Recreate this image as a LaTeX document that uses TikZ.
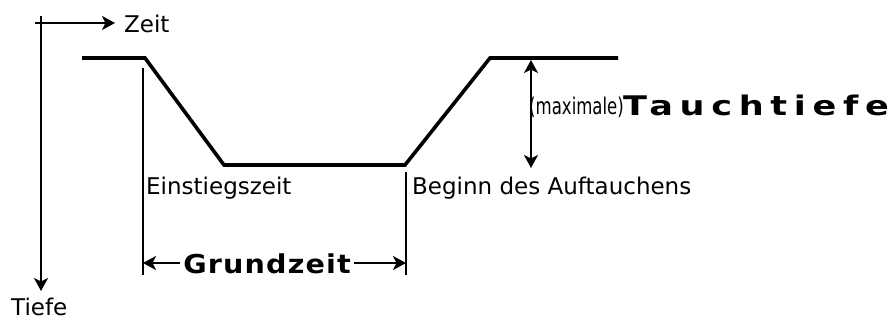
\documentclass[tikz,border=0pt]{standalone}
\usepackage{fontspec}
\setmainfont{DejaVu Sans}
\usetikzlibrary{arrows.meta}
\begin{document}
\begin{tikzpicture}[x=1pt,y=-1pt,
  thin line/.style={line width=2pt},
  profile/.style={line width=3.6pt,line join=miter},
  tipend/.style={-{Stealth[length=13pt,width=14pt,inset=3.5pt]}},
  tipboth/.style={{Stealth[length=13pt,width=14pt,inset=3.5pt]}-{Stealth[length=13pt,width=14pt,inset=3.5pt]}},
  lbl/.style={inner sep=0pt,anchor=base west,font=\fontsize{23}{26}\selectfont}]
\useasboundingbox (0,0) rectangle (888,320);
% axes
\coordinate (hx0) at (35,23);
\coordinate (hx1) at (115,23);
\coordinate (vy0) at (41,16);
\coordinate (vy1) at (41,291);
\draw[thin line,tipend] (hx0) -- (hx1);
\draw[thin line,tipend] (vy0) -- (vy1);
\node[lbl] (zeit) at (124,33) {Zeit};
\node[lbl] (tiefe) at (11,315) {Tiefe};
% profile
\coordinate (p0) at (82,58);
\coordinate (p1) at (145,58);
\coordinate (p2) at (224,165);
\coordinate (p3) at (405,165);
\coordinate (p4) at (490,58);
\coordinate (p5) at (618,58);
\draw[profile] (p0) -- (p1) -- (p2) -- (p3) -- (p4) -- (p5);
% markers
\coordinate (a1) at (143,68);
\coordinate (a2) at (143,275);
\coordinate (b1) at (406,172);
\coordinate (b2) at (406,275);
\draw[thin line] (a1) -- (a2);
\draw[thin line] (b1) -- (b2);
\node[lbl] (einst) at (146,195) {Einstiegszeit};
\node[lbl] (beginn) at (412,195) {Beginn des Auftauchens};
% Grundzeit
\node[inner ysep=0pt,inner xsep=3pt,anchor=base] (grund) at (267,273)
  {\scalebox{1.1}[1]{\fontsize{26}{28}\selectfont\bfseries\addfontfeature{LetterSpace=4}Grundzeit}};
\coordinate (gl) at (143,263);
\coordinate (gr) at (406,263);
\draw[thin line,tipend] (grund.west |- gl) -- (gl);
\draw[thin line,tipend] (grund.east |- gr) -- (gr);
% depth
\coordinate (d1) at (531,60);
\coordinate (d2) at (531,168);
\draw[thin line,tipboth] (d1) -- (d2);
\node[lbl] (maxi) at (529,115) {\scalebox{0.72}[1]{(maximale)}};
\node[inner sep=0pt,anchor=base west] (tt) at (623,116)
  {\scalebox{1.3}[1]{\fontsize{27}{29}\selectfont\bfseries\addfontfeature{LetterSpace=19}Tauchtiefe}};
\end{tikzpicture}
\end{document}
